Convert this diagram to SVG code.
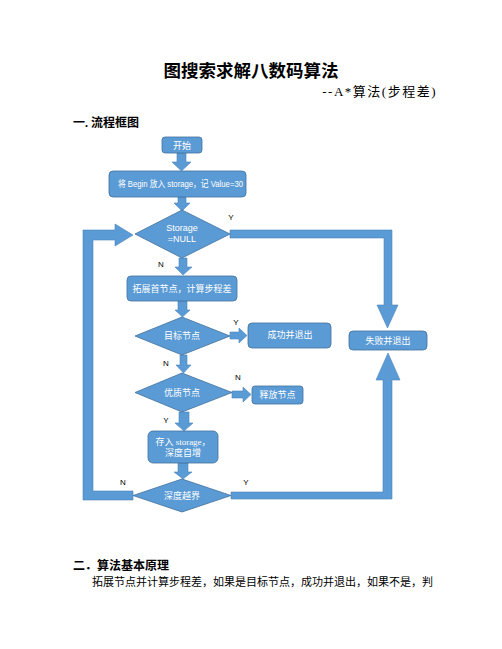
<svg xmlns="http://www.w3.org/2000/svg" width="502" height="649" viewBox="0 0 502 649">
<style>
.bg{fill:#ffffff}
.node{fill:#5b9bd5;stroke:#41719c;stroke-width:0.8}
.arr{fill:#5b9bd5;stroke:#4a84bd;stroke-width:0.6}
.nt{font-family:"Liberation Serif","Noto Sans CJK SC",serif;font-size:9px;fill:#ffffff;text-anchor:middle}
.ns{font-family:"Liberation Sans","Noto Sans CJK SC",sans-serif;font-size:9px;fill:#ffffff;text-anchor:middle}
.lbl{font-family:"Liberation Sans",sans-serif;font-size:8px;fill:#000000;text-anchor:middle}
.doc{font-family:"Liberation Serif","Noto Sans CJK SC",serif;fill:#000000}
</style>
<rect class="bg" x="0" y="0" width="502" height="649"/>
<text class="doc" x="251" y="77" font-size="17.5" font-weight="bold" text-anchor="middle">图搜索求解八数码算法</text>
<text class="doc" x="437" y="96" font-size="13" letter-spacing="1.5" text-anchor="end">--A*算法(步程差)</text>
<text class="doc" x="73" y="127" font-size="12" font-weight="bold">一. 流程框图</text>

<g id="connectors">
<polygon class="arr" points="177,153 186,153 186,162 191,162 181.5,171 172,162 177,162"/>
<polygon class="arr" points="178,197 186,197 186,203 190,203 182,211 174,203 178,203"/>
<polygon class="arr" points="179,258 187,258 187,267 192,267 183,275 175,267 179,267"/>
<polygon class="arr" points="178,301 187,301 187,310 190,310 182.5,317 175,310 178,310"/>
<polygon class="arr" points="230,332 239,332 239,328 247,335.5 239,343 239,339 230,339"/>
<polygon class="arr" points="180,355 187,355 187,365 191,365 183.5,373 176,365 180,365"/>
<polygon class="arr" points="232,391 243,391 243,387 251,394.5 243,402 243,398 232,398"/>
<polygon class="arr" points="179,412 189,412 189,423 193,423 184,431 175,423 179,423"/>
<polygon class="arr" points="178,463 188,463 188,472 192,472 183,479 174,472 178,472"/>
<polygon class="arr" points="133,491 93,491 93,240 115,240 115,246 133,235 115,224 115,230 83,230 83,500 133,500"/>
<polygon class="arr" points="230,230 392,230 392,305 398,305 387.5,328 377,305 384,305 384,238 230,238"/>
<polygon class="arr" points="231,492 383,492 383,380 376,380 388,353 400,380 392,380 392,499 231,499"/>
</g>

<g id="n-start">
<rect class="node" x="162" y="137" width="40" height="16" rx="3"/>
<text class="nt" x="182" y="148.5">开始</text>
</g>
<g id="n-init">
<rect class="node" x="109" y="171" width="137" height="26" rx="4"/>
<text class="ns" x="180.5" y="186.5" font-size="7.5" textLength="125" lengthAdjust="spacingAndGlyphs">将 Begin 放入 storage，记 Value=30</text>
</g>
<g id="n-empty">
<polygon class="node" points="182,210 230,234 182,258 135,234"/>
<text class="ns" x="182" y="231" font-size="7.5">Storage</text>
<text class="ns" x="182" y="241.5" font-size="5.5">=NULL</text>
</g>
<g id="n-expand">
<rect class="node" x="127" y="276" width="110" height="25" rx="4"/>
<text class="nt" x="182" y="291.5">拓展首节点，计算步程差</text>
</g>
<g id="n-goal">
<polygon class="node" points="182,317 230,336 182,355 135,336"/>
<text class="nt" x="182" y="339">目标节点</text>
</g>
<g id="n-success">
<rect class="node" x="248" y="323" width="83" height="25" rx="4"/>
<text class="nt" x="290" y="338">成功并退出</text>
</g>
<g id="n-fail">
<rect class="node" x="349" y="331" width="78" height="19" rx="4"/>
<text class="nt" x="388" y="343.5">失败并退出</text>
</g>
<g id="n-good">
<polygon class="node" points="182,373 232,392.5 182,412 135,392.5"/>
<text class="nt" x="182" y="396">优质节点</text>
</g>
<g id="n-release">
<rect class="node" x="252" y="386" width="51" height="18" rx="3"/>
<text class="nt" x="277.5" y="398">释放节点</text>
</g>
<g id="n-store">
<rect class="node" x="148" y="431" width="70" height="32" rx="5"/>
<text class="nt" x="183" y="445">存入 storage，</text>
<text class="nt" x="183" y="456">深度自增</text>
</g>
<g id="n-depth">
<polygon class="node" points="182,479 231,495.5 182,512 133,495.5"/>
<text class="nt" x="182" y="499">深度越界</text>
</g>

<g id="labels">
<text class="lbl" x="231" y="220">Y</text>
<text class="lbl" x="161" y="267">N</text>
<text class="lbl" x="236" y="325">Y</text>
<text class="lbl" x="166" y="366">N</text>
<text class="lbl" x="238" y="380">N</text>
<text class="lbl" x="166" y="423">Y</text>
<text class="lbl" x="123" y="485">N</text>
<text class="lbl" x="246" y="485">Y</text>
</g>

<text class="doc" x="73" y="570" font-size="12" font-weight="bold">二．算法基本原理</text>
<text class="doc" x="92" y="586" font-size="11">拓展节点并计算步程差，如果是目标节点，成功并退出，如果不是，判</text>
</svg>
